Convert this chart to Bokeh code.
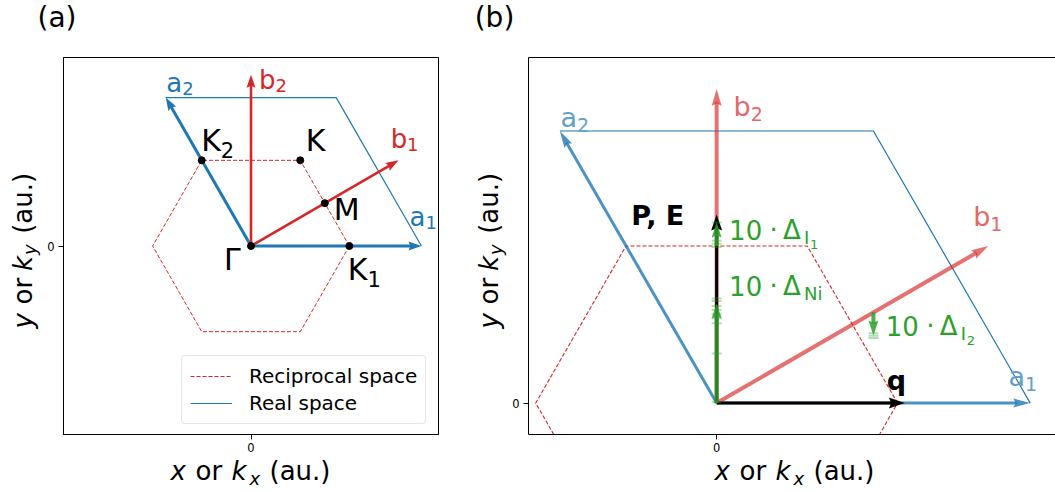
import math
from bokeh.plotting import figure
from bokeh.models import Range1d, FixedTicker, Label, Legend, LegendItem, LinearAxis
from bokeh.layouts import row, column
from bokeh.embed import file_html
from bokeh.resources import INLINE

# ---------------- data ----------------
# real-space lattice vectors and reciprocal lattice vectors (unit length)
a1 = [1.0, 0.0]
a2 = [-0.5, 0.866]
b1 = [0.866, 0.5]
b2 = [0.0, 1.0]
# real-space unit cell outline (a2 -> a1+a2 -> a1)
cell_x = [-0.5, 0.5, 1.0]
cell_y = [0.866, 0.866, 0.0]
# first Brillouin zone (hexagon)
bz_x = [0.577, 0.289, -0.289, -0.577, -0.289, 0.289, 0.577]
bz_y = [0.0, 0.5, 0.5, 0.0, -0.5, -0.5, 0.0]
# high-symmetry points: Gamma, K1, K, K2, M
hs_x = [0.0, 0.577, 0.289, -0.289, 0.433]
hs_y = [0.0, 0.0, 0.5, 0.5, 0.25]
# panel (b) vectors
q_vec = [0.6, 0.0]
pe_vec = [0.0, 0.6]
# green displacement arrows (I1, Ni, I2): start and vertical length
disp_x0 = [0.0, 0.0, 0.5]
disp_y0 = [0.5, 0.0, 0.289]
disp_dy = [0.075, 0.317, -0.074]
# faint ensemble marks along the displacement arrows
ens_ni = [0.333, 0.325, 0.309, 0.296, 0.283, 0.270, 0.254, 0.158, 0.003]
ens_i1 = [0.575, 0.517, 0.507, 0.497]
ens_i2 = [0.222, 0.214, 0.207]

BLUE = "#1f77b4"
RED = "#d62728"
GREEN = "#2ca02c"
LBLUE = "#62a0ca"
LRED = "#e26868"
FONT = "DejaVu Sans"
BASE_CORR = 0.42   # empirical shift of Bokeh's alphabetic baseline (fraction of size)

# frame geometry (page pixels)
A_LEFT, A_TOP, A_W, A_H = 62, 57, 376, 377
B_LEFT, B_TOP, B_W, B_H = 527, 57, 528, 377
A_XR = (-1.1, 1.1)
A_YR = (-1.1, 1.1)
B_YR = (-0.1, 1.1)
B_XR = (-0.6, -0.6 + B_W * (B_YR[1] - B_YR[0]) / B_H)
MAIN_TOP, MAIN_BOT = 50, 456      # page rows covered by the main figures
PAGE_H = 493
YLAB_A_R, YLAB_B_R = 44, 509      # right edge of the y-label strips


def conv(left, top, w, h, xr, yr):
    sx = w / (xr[1] - xr[0])
    sy = h / (yr[1] - yr[0])
    X = lambda px: xr[0] + (px - left) / sx
    Y = lambda py: yr[1] - (py - top) / sy
    return X, Y, sx, sy


XA, YA, SXA, SYA = conv(A_LEFT, A_TOP, A_W, A_H, A_XR, A_YR)
XB, YB, SXB, SYB = conv(B_LEFT, B_TOP, B_W, B_H, B_XR, B_YR)
IDENT = lambda v: v


def make_main(page_x0, page_x1, frame_left, frame_w, xr, yr):
    left = frame_left - page_x0
    right = page_x1 - page_x0 - left - frame_w
    p = figure(width=page_x1 - page_x0, height=MAIN_BOT - MAIN_TOP,
               x_range=Range1d(*xr), y_range=Range1d(*yr),
               output_backend="svg", toolbar_location=None,
               min_border_left=left, min_border_right=right,
               min_border_top=A_TOP - MAIN_TOP, min_border_bottom=MAIN_BOT - (A_TOP + A_H))
    p.grid.visible = False
    for ax in list(p.xaxis) + list(p.yaxis):
        ax.ticker = FixedTicker(ticks=[0])
        ax.major_tick_out = 5
        ax.major_tick_in = 0
        ax.minor_tick_out = 0
        ax.minor_tick_in = 0
        ax.major_tick_line_color = "black"
        ax.axis_line_color = "black"
        ax.axis_line_width = 1
        ax.major_label_text_font = FONT
        ax.major_label_text_font_size = "11.5px"
        ax.major_label_text_color = "black"
        ax.axis_label_standoff = 0
    p.xaxis.major_label_standoff = 3
    p.yaxis.major_label_standoff = 4
    return p


def aux(px0, py0, px1, py1):
    # a text-only figure whose data coordinates are page pixels (y downward)
    p = figure(width=px1 - px0, height=py1 - py0,
               x_range=Range1d(px0, px1), y_range=Range1d(py1, py0),
               output_backend="svg", toolbar_location=None, min_border=0,
               x_axis_type=None, y_axis_type=None)
    p.outline_line_color = None
    p.grid.visible = False
    return p


def arrow(p, sx, sy, x0, y0, x1, y1, color, lw, alpha, hl, hw, notch=0.15):
    dx = (x1 - x0) * sx
    dy = (y1 - y0) * sy
    L = math.hypot(dx, dy)
    ux, uy = dx / L, dy / L
    bx, by = dx - ux * hl, dy - uy * hl
    nx, ny = dx - ux * hl * (1 - notch), dy - uy * hl * (1 - notch)
    qx, qy = -uy, ux
    pts = [(dx, dy), (bx + qx * hw / 2, by + qy * hw / 2), (nx, ny),
           (bx - qx * hw / 2, by - qy * hw / 2)]
    ex, ey = nx + ux * 1.0, ny + uy * 1.0
    p.line([x0, x0 + ex / sx], [y0, y0 + ey / sy], line_color=color, line_width=lw,
           line_alpha=alpha, line_cap="butt")
    p.patch([x0 + a / sx for a, b in pts], [y0 + b / sy for a, b in pts],
            fill_color=color, fill_alpha=alpha, line_color=None)


def lab(p, X, Y, px, py, text, size, color="black", style="normal", rotated=False,
        align="left", alpha=1.0):
    if rotated:
        px = px - BASE_CORR * size
        py = py + BASE_CORR * size
        angle = math.pi / 2
    else:
        py = py - BASE_CORR * size
        angle = 0.0
    p.add_layout(Label(x=X(px), y=Y(py), text=text, text_font=FONT,
                       text_font_size=f"{size}px", text_color=color, text_alpha=alpha,
                       text_font_style=style, text_align=align,
                       text_baseline="alphabetic", angle=angle))


XLAB_OFFS = [(0, 0, 26, "italic"), (25, 0, 26, "normal"), (61, 0, 26, "italic"),
             (79, 4, 18, "italic"), (99, 0, 26, "normal")]
YLAB_OFFS = [(0, 0, 26, "italic"), (26, 0, 26, "normal"), (62, 0, 26, "italic"),
             (76, 4, 18, "italic"), (102, 0, 26, "normal")]


def x_label(p, xstart, xbase):
    for t, (off, sub, size, style) in zip(["x", "or", "k", "x", "(au.)"], XLAB_OFFS):
        lab(p, IDENT, IDENT, xstart + off, xbase + sub, t, size, style=style)


def y_label(p, ystart, ybase):
    for t, (off, sub, size, style) in zip(["y", "or", "k", "y", "(au.)"], YLAB_OFFS):
        lab(p, IDENT, IDENT, ybase + sub, ystart - off, t, size, style=style, rotated=True)


# ================= panel (a) =================
pa = make_main(YLAB_A_R, 470, A_LEFT, A_W, A_XR, A_YR)
pa.outline_line_color = "black"
pa.outline_line_width = 1
pa.outline_line_alpha = 1

r_bz = pa.line(bz_x, bz_y, line_color=RED, line_width=1, line_dash="4 2")
r_cell = pa.line(cell_x, cell_y, line_color=BLUE, line_width=1.2)

arrow(pa, SXA, SYA, 0, 0, a1[0], a1[1], BLUE, 3, 1, 13, 9)
arrow(pa, SXA, SYA, 0, 0, a2[0], a2[1], BLUE, 3, 1, 13, 9)
arrow(pa, SXA, SYA, 0, 0, b1[0], b1[1], RED, 2.6, 1, 13, 9)
arrow(pa, SXA, SYA, 0, 0, b2[0], b2[1], RED, 2.6, 1, 13, 9)
pa.scatter(hs_x, hs_y, size=7, color="black")

# vector labels
lab(pa, XA, YA, 165, 93, "a", 26, BLUE)
lab(pa, XA, YA, 181, 96, "2", 18, BLUE)
lab(pa, XA, YA, 258, 90, "b", 26, RED)
lab(pa, XA, YA, 274.5, 93, "2", 18, RED)
lab(pa, XA, YA, 390, 149, "b", 26, RED)
lab(pa, XA, YA, 406.5, 152, "1", 18, RED)
lab(pa, XA, YA, 409, 227, "a", 26, BLUE)
lab(pa, XA, YA, 425, 230, "1", 18, BLUE)
# high-symmetry point labels
lab(pa, XA, YA, 200, 153, "K", 30)
lab(pa, XA, YA, 219.7, 158, "2", 21)
lab(pa, XA, YA, 305, 153, "K", 30)
lab(pa, XA, YA, 333, 222, "M", 30)
lab(pa, XA, YA, 223, 272, "Γ", 30)
lab(pa, XA, YA, 347, 282, "K", 30)
lab(pa, XA, YA, 366.7, 287, "1", 21)

legend = Legend(items=[LegendItem(label="Reciprocal space", renderers=[r_bz]),
                       LegendItem(label="Real space", renderers=[r_cell])],
                location=(180 - A_LEFT, (A_TOP + A_H) - 424), margin=0,
                label_text_font=FONT, label_text_font_size="20px",
                label_text_color="black",
                glyph_width=42, glyph_height=24, label_height=24, label_standoff=17,
                spacing=3, padding=8, border_line_color="#cccccc",
                border_line_width=1, background_fill_alpha=0.8)
if "border_radius" in Legend.properties():
    legend.border_radius = 4
pa.add_layout(legend)

ta = aux(0, 0, 470, MAIN_TOP)
lab(ta, IDENT, IDENT, 56.5, 29, "(a)", 28, align="center")
ya = aux(0, MAIN_TOP, YLAB_A_R, MAIN_BOT)
y_label(ya, 331, 33)
xa = aux(0, MAIN_BOT, 470, PAGE_H)
x_label(xa, 170, 481.5)

# ================= panel (b) =================
pb = make_main(YLAB_B_R, 1055, B_LEFT, B_W, B_XR, B_YR)
pb.outline_line_color = None
top_ax = LinearAxis(ticker=FixedTicker(ticks=[]), major_label_text_font_size="0px",
                    major_tick_out=0, major_tick_in=0, minor_tick_out=0, minor_tick_in=0,
                    major_label_standoff=0, axis_label_standoff=0,
                    axis_line_color="black", axis_line_width=1)
pb.add_layout(top_ax, "above")

pb.line(bz_x, bz_y, line_color=RED, line_width=1.1, line_dash="4 2")
pb.line(cell_x, cell_y, line_color=BLUE, line_width=1.2)

arrow(pb, SXB, SYB, 0, 0, a1[0], a1[1], BLUE, 3, 0.8, 17, 9)
arrow(pb, SXB, SYB, 0, 0, a2[0], a2[1], BLUE, 3, 0.8, 17, 9)
arrow(pb, SXB, SYB, 0, 0, b1[0], b1[1], RED, 4, 0.65, 17, 10)
arrow(pb, SXB, SYB, 0, 0, b2[0], b2[1], RED, 4, 0.65, 17, 10)
arrow(pb, SXB, SYB, 0, 0, q_vec[0], q_vec[1], "black", 3, 1, 16, 11)
arrow(pb, SXB, SYB, 0, 0, pe_vec[0], pe_vec[1], "black", 3, 1, 16, 11)
for x0, y0, dy in zip(disp_x0, disp_y0, disp_dy):
    arrow(pb, SXB, SYB, x0, y0, x0, y0 + dy, GREEN, 4, 0.85, 15, 10)
pb.scatter([disp_x0[1]] * len(ens_ni), ens_ni, marker="dash", size=10, line_width=2,
           color=GREEN, alpha=0.35)
pb.scatter([disp_x0[0]] * len(ens_i1), ens_i1, marker="dash", size=10, line_width=2,
           color=GREEN, alpha=0.35)
pb.scatter([disp_x0[2]] * len(ens_i2), ens_i2, marker="dash", size=10, line_width=2,
           color=GREEN, alpha=0.35)

# vector labels
lab(pb, XB, YB, 559, 128, "a", 27, LBLUE)
lab(pb, XB, YB, 575.5, 132, "2", 19, LBLUE)
lab(pb, XB, YB, 732.5, 117, "b", 27, LRED)
lab(pb, XB, YB, 749.6, 121, "2", 19, LRED)
lab(pb, XB, YB, 972.5, 227, "b", 27, LRED)
lab(pb, XB, YB, 989.6, 231, "1", 19, LRED)
lab(pb, XB, YB, 1008, 387, "a", 27, LBLUE)
lab(pb, XB, YB, 1024.5, 391, "1", 19, LBLUE)
lab(pb, XB, YB, 630, 226, "P, E", 27, style="bold")
lab(pb, XB, YB, 886, 391, "q", 27, style="bold")
# displacement labels
for (x10, base, sub_text, subsub) in [(728, 240, "I", "1"), (728, 296, "Ni", None),
                                      (885, 336, "I", "2")]:
    lab(pb, XB, YB, x10, base, "10", 26, GREEN)
    lab(pb, XB, YB, x10 + 40.5, base, "·", 26, GREEN)
    lab(pb, XB, YB, x10 + 54, base, "Δ", 26, GREEN)
    lab(pb, XB, YB, x10 + 75, base + 5, sub_text, 18, GREEN)
    if subsub:
        lab(pb, XB, YB, x10 + 81, base + 9, subsub, 13, GREEN)

tb = aux(470, 0, 1055, MAIN_TOP)
lab(tb, IDENT, IDENT, 494, 29, "(b)", 28, align="center")
yb = aux(470, MAIN_TOP, YLAB_B_R, MAIN_BOT)
y_label(yb, 331, 499)
xb = aux(470, MAIN_BOT, 1055, PAGE_H)
x_label(xb, 714, 481.5)

col_a = column(ta, row(ya, pa), xa)
col_b = column(tb, row(yb, pb), xb)
layout = row(col_a, col_b)
open("out.html", "w").write(file_html(layout, INLINE))
